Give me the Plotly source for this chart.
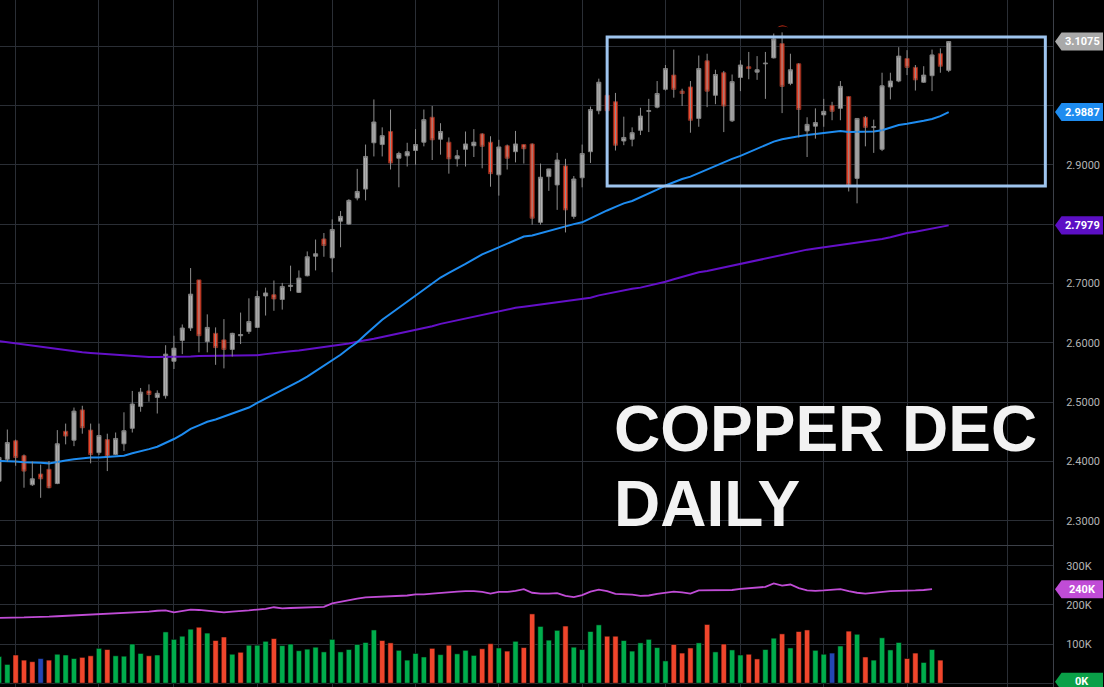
import plotly.graph_objects as go

# daily copper (Dec contract) candles, one entry per trading day
opens = [2.367, 2.404, 2.435, 2.410, 2.361, 2.379, 2.387, 2.363, 2.451, 2.436,
         2.487, 2.453, 2.415, 2.437, 2.412, 2.430, 2.456, 2.493, 2.519, 2.508,
         2.511, 2.569, 2.604, 2.625, 2.706, 2.602, 2.616, 2.605, 2.589, 2.612,
         2.619, 2.626, 2.679, 2.681, 2.673, 2.695, 2.685, 2.713, 2.746, 2.775,
         2.743, 2.805, 2.800, 2.844, 2.859, 2.937, 2.934, 2.956, 2.911, 2.915,
         2.924, 2.938, 2.980, 2.943, 2.938, 2.910, 2.926, 2.932, 2.952, 2.938,
         2.883, 2.932, 2.922, 2.934, 2.935, 2.803, 2.880, 2.866, 2.898, 2.813,
         2.878, 2.922, 2.991, 3.017, 3.006, 2.940, 2.943, 2.958, 2.990, 2.997,
         3.027, 3.051, 3.024, 3.031, 2.978, 3.075, 3.017, 3.055, 2.974, 3.047,
         3.065, 3.056, 3.070, 3.080, 3.104, 3.037, 3.070, 2.957, 2.965, 2.984,
         3.000, 2.995, 3.015, 2.877, 2.980, 2.963, 2.926, 3.031, 3.041, 3.079,
         3.064, 3.039, 3.050, 3.087, 3.059]
highs = [2.418, 2.454, 2.437, 2.412, 2.400, 2.395, 2.401, 2.453, 2.464, 2.491,
         2.494, 2.464, 2.464, 2.447, 2.449, 2.483, 2.519, 2.524, 2.530, 2.520,
         2.596, 2.612, 2.631, 2.726, 2.706, 2.648, 2.626, 2.640, 2.617, 2.651,
         2.675, 2.688, 2.693, 2.705, 2.701, 2.730, 2.722, 2.754, 2.774, 2.785,
         2.808, 2.822, 2.842, 2.893, 2.934, 3.010, 2.963, 2.993, 2.922, 2.937,
         2.960, 2.993, 2.999, 2.970, 2.946, 2.925, 2.956, 2.960, 2.953, 2.948,
         2.942, 2.934, 2.957, 2.934, 2.936, 2.902, 2.893, 2.920, 2.910, 2.881,
         2.934, 2.998, 3.045, 3.022, 3.021, 2.981, 2.963, 2.996, 3.011, 3.041,
         3.068, 3.094, 3.028, 3.041, 3.084, 3.087, 3.060, 3.058, 3.052, 3.076,
         3.090, 3.083, 3.090, 3.121, 3.123, 3.087, 3.071, 2.980, 2.995, 3.011,
         3.006, 3.041, 3.015, 2.978, 2.982, 2.976, 3.055, 3.055, 3.098, 3.093,
         3.068, 3.066, 3.094, 3.096, 3.108]
lows = [2.360, 2.400, 2.393, 2.356, 2.359, 2.339, 2.355, 2.362, 2.429, 2.426,
        2.447, 2.397, 2.411, 2.384, 2.411, 2.418, 2.449, 2.484, 2.501, 2.481,
        2.506, 2.556, 2.581, 2.620, 2.584, 2.584, 2.563, 2.557, 2.577, 2.598,
        2.615, 2.625, 2.646, 2.654, 2.656, 2.687, 2.684, 2.712, 2.722, 2.745,
        2.719, 2.761, 2.799, 2.840, 2.840, 2.914, 2.914, 2.892, 2.862, 2.897,
        2.900, 2.931, 2.908, 2.917, 2.885, 2.897, 2.897, 2.913, 2.894, 2.863,
        2.848, 2.892, 2.904, 2.902, 2.799, 2.799, 2.856, 2.824, 2.786, 2.809,
        2.862, 2.903, 2.985, 2.985, 2.924, 2.933, 2.931, 2.950, 2.955, 2.995,
        3.025, 3.013, 2.999, 2.954, 2.964, 2.997, 3.002, 2.955, 2.972, 3.024,
        3.044, 3.043, 3.011, 3.079, 2.987, 3.034, 2.946, 2.913, 2.944, 2.964,
        2.975, 2.975, 2.855, 2.835, 2.931, 2.920, 2.923, 3.010, 3.039, 3.051,
        3.025, 3.038, 3.024, 3.055, 3.056]
closes = [2.407, 2.432, 2.407, 2.384, 2.371, 2.371, 2.356, 2.430, 2.443, 2.485,
          2.457, 2.412, 2.444, 2.408, 2.439, 2.452, 2.497, 2.517, 2.513, 2.515,
          2.581, 2.591, 2.625, 2.682, 2.612, 2.626, 2.592, 2.589, 2.616, 2.614,
          2.636, 2.678, 2.684, 2.674, 2.695, 2.697, 2.709, 2.745, 2.750, 2.764,
          2.791, 2.813, 2.840, 2.855, 2.914, 2.972, 2.949, 2.903, 2.919, 2.922,
          2.934, 2.976, 2.942, 2.956, 2.910, 2.915, 2.935, 2.938, 2.931, 2.885,
          2.930, 2.911, 2.935, 2.927, 2.810, 2.879, 2.893, 2.908, 2.824, 2.876,
          2.919, 2.993, 3.039, 2.991, 2.933, 2.946, 2.954, 2.982, 2.991, 3.020,
          3.062, 3.027, 3.020, 2.975, 3.062, 3.024, 3.052, 2.999, 3.040, 3.068,
          3.062, 3.060, 3.071, 3.112, 3.032, 3.060, 2.993, 2.968, 2.971, 2.990,
          2.990, 3.032, 2.866, 2.978, 2.963, 2.964, 3.033, 3.041, 3.083, 3.064,
          3.043, 3.051, 3.085, 3.066, 3.1075]

# moving averages on price
ma_fast = [2.401, 2.401, 2.400, 2.399, 2.399, 2.398, 2.397, 2.400, 2.402, 2.404,
           2.406, 2.407, 2.407, 2.408, 2.409, 2.410, 2.414, 2.417, 2.421, 2.425,
           2.431, 2.438, 2.446, 2.455, 2.461, 2.467, 2.471, 2.476, 2.480, 2.486,
           2.491, 2.499, 2.506, 2.513, 2.520, 2.527, 2.535, 2.543, 2.552, 2.561,
           2.570, 2.580, 2.591, 2.601, 2.614, 2.627, 2.639, 2.649, 2.659, 2.669,
           2.679, 2.689, 2.700, 2.710, 2.718, 2.725, 2.733, 2.741, 2.749, 2.755,
           2.761, 2.767, 2.773, 2.779, 2.781, 2.785, 2.789, 2.793, 2.796, 2.800,
           2.803, 2.810, 2.817, 2.823, 2.829, 2.835, 2.839, 2.845, 2.851, 2.858,
           2.865, 2.871, 2.876, 2.880, 2.886, 2.892, 2.899, 2.905, 2.910, 2.915,
           2.921, 2.927, 2.933, 2.939, 2.943, 2.946, 2.948, 2.950, 2.952, 2.953,
           2.955, 2.957, 2.955, 2.955, 2.955, 2.956, 2.958, 2.962, 2.967, 2.969,
           2.971, 2.974, 2.977, 2.982, 2.9887]
ma_slow = [2.603, 2.601, 2.599, 2.597, 2.595, 2.593, 2.591, 2.589, 2.587, 2.586,
           2.584, 2.583, 2.582, 2.580, 2.579, 2.578, 2.577, 2.576, 2.576, 2.576,
           2.576, 2.576, 2.577, 2.577, 2.578, 2.578, 2.578, 2.578, 2.578, 2.578,
           2.578, 2.579, 2.581, 2.583, 2.585, 2.586, 2.587, 2.589, 2.591, 2.592,
           2.594, 2.597, 2.599, 2.602, 2.604, 2.607, 2.610, 2.613, 2.615, 2.618,
           2.622, 2.625, 2.628, 2.632, 2.635, 2.638, 2.641, 2.645, 2.648, 2.651,
           2.654, 2.656, 2.659, 2.661, 2.663, 2.665, 2.667, 2.669, 2.671, 2.672,
           2.674, 2.676, 2.680, 2.683, 2.686, 2.688, 2.691, 2.693, 2.696, 2.699,
           2.703, 2.707, 2.711, 2.715, 2.719, 2.721, 2.724, 2.727, 2.730, 2.733,
           2.736, 2.740, 2.743, 2.746, 2.749, 2.751, 2.754, 2.757, 2.759, 2.761,
           2.763, 2.765, 2.767, 2.768, 2.770, 2.772, 2.775, 2.778, 2.782, 2.785,
           2.787, 2.790, 2.792, 2.795, 2.7979]

# volume in thousands (last session has no volume yet)
volume_k = [68, 48, 72, 59, 55, 63, 59, 74, 72, 63,
            66, 70, 89, 86, 70, 69, 100, 76, 70, 72,
            131, 112, 120, 138, 143, 128, 109, 118, 74, 79,
            97, 97, 107, 114, 96, 100, 83, 87, 92, 80,
            112, 80, 86, 99, 104, 136, 109, 103, 84, 59,
            76, 67, 89, 73, 97, 75, 84, 71, 88, 101,
            90, 82, 107, 91, 177, 145, 110, 135, 146, 92,
            86, 132, 149, 120, 120, 109, 82, 103, 112, 91,
            57, 99, 77, 90, 103, 150, 80, 100, 85, 72,
            74, 62, 86, 115, 126, 90, 132, 136, 84, 74,
            77, 95, 133, 125, 67, 59, 116, 85, 104, 63,
            77, 53, 86, 59]
vol_ma_k = [167, 167, 168, 168, 169, 169, 170, 171, 172, 173, 174, 175,
            177, 177, 178, 179, 181, 182, 183, 185,
            186, 181, 185, 188, 187, 185, 183, 181, 183, 184,
            186, 188, 190, 194, 191, 192, 193, 194, 194, 195,
            204, 208, 213, 216, 219, 220, 221, 222, 223, 224,
            227, 227, 229, 231, 232, 234, 235, 235, 233, 229,
            233, 233, 236, 240, 231, 229, 229, 230, 223, 220,
            225, 234, 239, 235, 228, 227, 226, 223, 224, 228,
            231, 234, 232, 229, 237, 237, 238, 238, 238, 241,
            243, 245, 246, 255, 249, 252, 243, 237, 236, 237,
            238, 240, 235, 231, 229, 231, 234, 235, 236, 236,
            237, 238, 240]

grid_days = [2, 12, 21, 31, 40, 50, 60, 70, 80, 89, 99, 109, 121]
price_ticks = [2.3, 2.4, 2.5, 2.6, 2.7, 2.8, 2.9, 3.0, 3.1]
vol_ticks = [0, 100, 200, 300]
title_lines = ["COPPER DEC", "DAILY"]

days = list(range(len(closes)))
vol_days = list(range(len(volume_k)))

BG = "#000000"
GRID = "#2a2e35"
AXLINE = "#3c4048"
TICKFONT = dict(family="Roboto", size=11, color="#b4b4b4")

# volume colours: close vs previous close
vol_colors = []
for i in vol_days:
    if i == 0 or closes[i] > closes[i - 1]:
        vol_colors.append("#00ad4c")
    elif closes[i] < closes[i - 1]:
        vol_colors.append("#f0462c")
    else:
        vol_colors.append("#2446b4")

wick_x, wick_y = [], []
for i in days:
    wick_x += [i, i, None]
    wick_y += [lows[i], highs[i], None]

# the last-value tags sit on top of these levels, so their labels stay blank
covered = [3.1, 3.0, 2.8]
price_text = ["" if t in covered else f"{t:.4f}" for t in price_ticks]
vol_text = ["" if v == 0 else f"{v}K" for v in vol_ticks]

fig = go.Figure()
fig.add_trace(go.Scatter(x=days, y=ma_slow, mode="lines",
                         line=dict(color="#6410c8", width=2), xaxis="x", yaxis="y"))
fig.add_trace(go.Scatter(x=days, y=ma_fast, mode="lines",
                         line=dict(color="#1e8cf0", width=2), xaxis="x", yaxis="y"))
fig.add_trace(go.Scatter(x=wick_x, y=wick_y, mode="lines",
                         line=dict(color="#8e8e8e", width=1), xaxis="x", yaxis="y"))
fig.add_trace(go.Candlestick(
    x=days, open=opens, close=closes,
    high=[max(o, c) for o, c in zip(opens, closes)],
    low=[min(o, c) for o, c in zip(opens, closes)],
    increasing=dict(fillcolor="#b3b3b3", line=dict(color="#7c7c7c", width=1)),
    decreasing=dict(fillcolor="#f0462c", line=dict(color="#8a2b1c", width=1)),
    xaxis="x", yaxis="y"))

fig.add_trace(go.Bar(x=vol_days, y=volume_k, width=0.64,
                     marker=dict(color=vol_colors, line=dict(color="rgba(0,0,0,0.55)", width=1)),
                     xaxis="x2", yaxis="y2"))
fig.add_trace(go.Scatter(x=list(range(len(vol_ma_k))), y=vol_ma_k, mode="lines",
                         line=dict(color="#c04cd6", width=1.8), xaxis="x2", yaxis="y2"))

x_common = dict(range=[0.12, 126.52], tickvals=grid_days, showticklabels=False,
                showgrid=True, gridcolor=GRID, gridwidth=1, zeroline=False, fixedrange=True)

fig.update_layout(
    width=1104, height=687,
    margin=dict(l=0, r=51, t=0, b=0),
    paper_bgcolor=BG, plot_bgcolor=BG,
    showlegend=False,
    xaxis=dict(**x_common, anchor="y", rangeslider=dict(visible=False),
               showline=True, linecolor=AXLINE, linewidth=1),
    xaxis2=dict(**x_common, anchor="y2", matches="x"),
    yaxis=dict(domain=[0.206, 1], range=[2.2587, 3.1775], side="right",
               tickvals=price_ticks, ticktext=price_text, tickfont=TICKFONT,
               ticklabelstandoff=10,
               showgrid=True, gridcolor=GRID, zeroline=False,
               showline=True, linecolor=AXLINE, automargin=False),
    yaxis2=dict(domain=[0, 0.2052], range=[-9.7, 350.3], side="right",
                tickvals=vol_ticks, ticktext=vol_text,
                tickfont=TICKFONT, ticklabelstandoff=10,
                showgrid=True, gridcolor=GRID, zeroline=False,
                showline=True, linecolor=AXLINE, automargin=False),
)

# consolidation box
fig.add_shape(type="rect", xref="x", yref="y", x0=73.0, x1=125.6, y0=2.8642, y1=3.1152,
              line=dict(color="#9ec4ee", width=3), layer="above")

# high marker
top = max(highs)
fig.add_annotation(x=highs.index(top), y=top, xref="x", yref="y", text="⌒",
                   showarrow=False, yanchor="middle", yshift=1,
                   font=dict(family="DejaVu Sans", size=13, color="#d8361c"))

# last-value tags on the price scale
def add_tag(value, label, color, yref, half):
    fig.add_shape(type="path", xref="paper", yref=yref, layer="above",
                  path=(f"M 1.0019,{value} L 1.0081,{value + half} L 1.0475,{value + half} "
                        f"L 1.0475,{value - half} L 1.0081,{value - half} Z"),
                  fillcolor=color, line=dict(width=0))
    fig.add_annotation(x=1.0278, y=value, xref="paper", yref=yref, text=f"<b>{label}</b>",
                       showarrow=False, xanchor="center", yanchor="middle",
                       font=dict(family="Roboto", size=11, color="#ffffff"))

add_tag(closes[-1], f"{closes[-1]:.4f}", "#a9a9a9", "y", 0.0152)
add_tag(ma_fast[-1], f"{ma_fast[-1]:.4f}", "#1e8cf0", "y", 0.0152)
add_tag(ma_slow[-1], f"{ma_slow[-1]:.4f}", "#5c0fc4", "y", 0.0152)
add_tag(vol_ma_k[-1], f"{vol_ma_k[-1]}K", "#c04cd6", "y2", 23)
add_tag(4, "0K", "#0aa048", "y2", 23)

# big caption
for line, top_px in zip(title_lines, [391, 466]):
    fig.add_annotation(x=612 / 1053, y=1 - top_px / 687, xref="paper", yref="paper",
                       text=f"<b>{line}</b>", showarrow=False, xanchor="left", yanchor="top",
                       font=dict(family="Liberation Sans", size=64, color="#f2f2f2"))

fig.write_html("out.html", config={"displayModeBar": False},
               post_script="document.body.style.margin='0';document.body.style.background='#000';")
